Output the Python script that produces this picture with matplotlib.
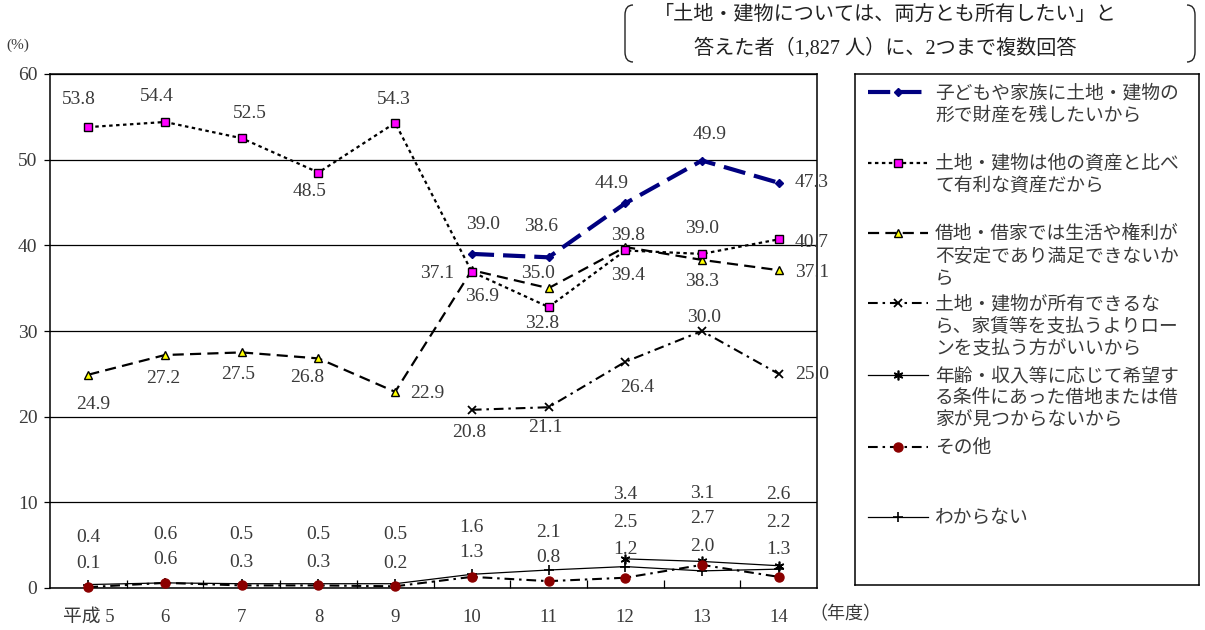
import numpy as np
import matplotlib
matplotlib.use("Agg")
import matplotlib.pyplot as plt
from matplotlib.path import Path
from matplotlib.patches import PathPatch

plt.rcParams["lines.scale_dashes"] = False

W, H = 1205, 630
SERIF = ["Liberation Serif", "Noto Sans CJK JP"]
CJK = ["Noto Sans CJK JP", "DejaVu Sans"]
TEXT = "#3a3a3a"

years = ["平成 5", "6", "7", "8", "9", "10", "11", "12", "13", "14"]

keep_for_family = [None] * 5 + [39.0, 38.6, 44.9, 49.9, 47.3]
better_asset = [53.8, 54.4, 52.5, 48.5, 54.3, 36.9, 32.8, 39.4, 39.0, 40.7]
unstable_lease = [24.9, 27.2, 27.5, 26.8, 22.9, 37.1, 35.0, 39.8, 38.3, 37.1]
loan_over_rent = [None] * 5 + [20.8, 21.1, 26.4, 30.0, 25.0]
no_suitable_lease = [None] * 7 + [3.4, 3.1, 2.6]
other = [0.1, 0.6, 0.3, 0.3, 0.2, 1.3, 0.8, 1.2, 2.7, 1.3]
dont_know = [0.4, 0.6, 0.5, 0.5, 0.5, 1.6, 2.1, 2.5, 2.0, 2.2]

series_names = [
    "子どもや家族に土地・建物の\n形で財産を残したいから",
    "土地・建物は他の資産と比べ\nて有利な資産だから",
    "借地・借家では生活や権利が\n不安定であり満足できないか\nら",
    "土地・建物が所有できるな\nら、家賃等を支払うよりロー\nンを支払う方がいいから",
    "年齢・収入等に応じて希望す\nる条件にあった借地または借\n家が見つからないから",
    "その他",
    "わからない",
]
series_values = [keep_for_family, better_asset, unstable_lease, loan_over_rent,
                 no_suitable_lease, other, dont_know]

# value label offsets (pixels from the marker)
label_offsets = [
    [None] * 5 + [(11, 29), (-7, 31), (-14, 20), (8, 26), (33, 0)],
    [(-10, 28), (-8, 25), (8, 25), (-9, -19), (-1, 23), (10, -25), (-6, -16), (3, -25), (0, 25), (33, -3)],
    [(5, -30), (-2, -24), (-4, -22), (-11, -19), (32, -2), (-35, -3), (-11, 15), (3, 12), (0, -22), (33, -2)],
    [None] * 5 + [(-3, -23), (-3, -20), (12, -26), (2, 13), (33, -1)],
    [None] * 7 + [(0, 64), (0, 68), (0, 71)],
    [(0, 24), (0, 23), (0, 23), (0, 23), (0, 23), (0, 24), (0, 24), (0, 28), (0, 46), (0, 27)],
    [(0, 47), (0, 48), (0, 49), (0, 49), (0, 49), (0, 47), (0, 38), (0, 44), (0, 24), (0, 47)],
]

styles = [
    dict(color="#000080", lw=3.0, ls=(0, (16, 6.5)), marker="D", ms=4.5, mfc="#000080", mec="#000080", mew=1, z=9),
    dict(color="black", lw=1.6, ls=(0, (2.5, 2.5)), marker="s", ms=6, mfc="#ff00ff", mec="black", mew=1, z=8),
    dict(color="black", lw=1.6, ls=(0, (8, 4.5)), marker="^", ms=6, mfc="#ffff00", mec="black", mew=1, z=7),
    dict(color="black", lw=1.5, ls=(0, (7, 3.5, 1.8, 3.5)), marker="x", ms=6, mfc="black", mec="black", mew=1.3, z=6),
    dict(color="black", lw=0.9, ls="-", marker=(6, 2, 0), ms=7, mfc="black", mec="black", mew=1.2, z=4),
    dict(color="black", lw=1.5, ls=(0, (7, 3.5, 1.8, 3.5)), marker="o", ms=6.5, mfc="#8b0000", mec="#8b0000", mew=1, z=5),
    dict(color="black", lw=0.9, ls="-", marker="+", ms=7, mfc="black", mec="black", mew=1.2, z=3),
]


def fx(px):
    return px / W


def fy(py):
    return 1 - py / H


fig = plt.figure(figsize=(W / 100, H / 100), dpi=100)
ax = fig.add_axes([fx(50), fy(588), fx(817) - fx(50), fy(74) - fy(588)])

x = np.arange(len(years))
for vals, st, offs in zip(series_values, styles, label_offsets):
    y = np.array([np.nan if v is None else v for v in vals], dtype=float)
    ax.plot(x, y, color=st["color"], lw=st["lw"], ls=st["ls"], marker=st["marker"],
            ms=st["ms"], mfc=st["mfc"], mec=st["mec"], mew=st["mew"], zorder=st["z"],
            clip_on=False)
    for i, v in enumerate(vals):
        if v is None:
            continue
        dx, dy = offs[i]
        ax.annotate(f"{v:.1f}", (i, v), xytext=(dx, dy), textcoords="offset pixels",
                    ha="center", va="center", fontsize=14, family=SERIF, color=TEXT,
                    annotation_clip=False, zorder=10)

ax.set_xlim(-0.5, len(years) - 0.5)
ax.set_ylim(0, 60)
ax.set_yticks(np.arange(0, 61, 10))
ax.yaxis.grid(True, color="black", lw=0.9)
ax.set_axisbelow(True)
ax.set_xticks(x)
ax.set_xticklabels(years, family=SERIF, fontsize=13.5, color=TEXT)
ax.set_xticks(x[:-1] + 0.5, minor=True)
ax.tick_params(axis="x", which="major", length=0, pad=15)
ax.tick_params(axis="x", which="minor", direction="in", length=6, width=0.9)
ax.tick_params(axis="y", direction="out", length=4, width=0.9, pad=5, labelsize=14, labelcolor=TEXT)
for lab in ax.get_yticklabels():
    lab.set_family(SERIF)
for sp in ax.spines.values():
    sp.set_linewidth(1.1)
    sp.set_color("black")

fig.text(fx(18), fy(45), "(%)", ha="center", va="center", fontsize=11, family=SERIF, color=TEXT)
fig.text(fx(845), fy(614), "（年度）", ha="center", va="center", fontsize=13, family=CJK, color=TEXT)

# legend panel
lg = fig.add_axes([fx(855), fy(585), fx(1199) - fx(855), fy(74) - fy(585)])
lg.set_xlim(0, 344)
lg.set_ylim(511, 0)
lg.set_xticks([])
lg.set_yticks([])
for sp in lg.spines.values():
    sp.set_linewidth(1.1)
row_y = [18, 89, 159, 229, 301, 373, 443]
for name, st, ry in zip(series_names, styles, row_y):
    lg.plot([13, 73], [ry, ry], color=st["color"], lw=st["lw"], ls=st["ls"])
    lg.plot([43], [ry], ls="none", marker=st["marker"], ms=st["ms"], mfc=st["mfc"],
            mec=st["mec"], mew=st["mew"])
    lg.text(80, ry - 10, name, ha="left", va="top", fontsize=13.5, family=CJK,
            color=TEXT, linespacing=1.08)

# heading in round brackets
fig.text(fx(885), fy(15), "「土地・建物については、両方とも所有したい」と", ha="center", va="center",
         fontsize=14.5, family=SERIF, color="#222222")
fig.text(fx(885), fy(48), "答えた者（1,827 人）に、2つまで複数回答", ha="center", va="center",
         fontsize=14.5, family=SERIF, color="#222222")


def bracket(edge, tip, top, bottom):
    pts = [(tip, top), (edge, top), (edge, top + 10), (edge, bottom - 10), (edge, bottom), (tip, bottom)]
    codes = [Path.MOVETO, Path.CURVE3, Path.CURVE3, Path.LINETO, Path.CURVE3, Path.CURVE3]
    path = Path([(fx(a), fy(b)) for a, b in pts], codes)
    fig.add_artist(PathPatch(path, fill=False, lw=1.0, edgecolor="#222222", transform=fig.transFigure))


bracket(625, 633, 5, 62)
bracket(1195, 1187, 5, 62)

fig.savefig("out.png", dpi=100)
